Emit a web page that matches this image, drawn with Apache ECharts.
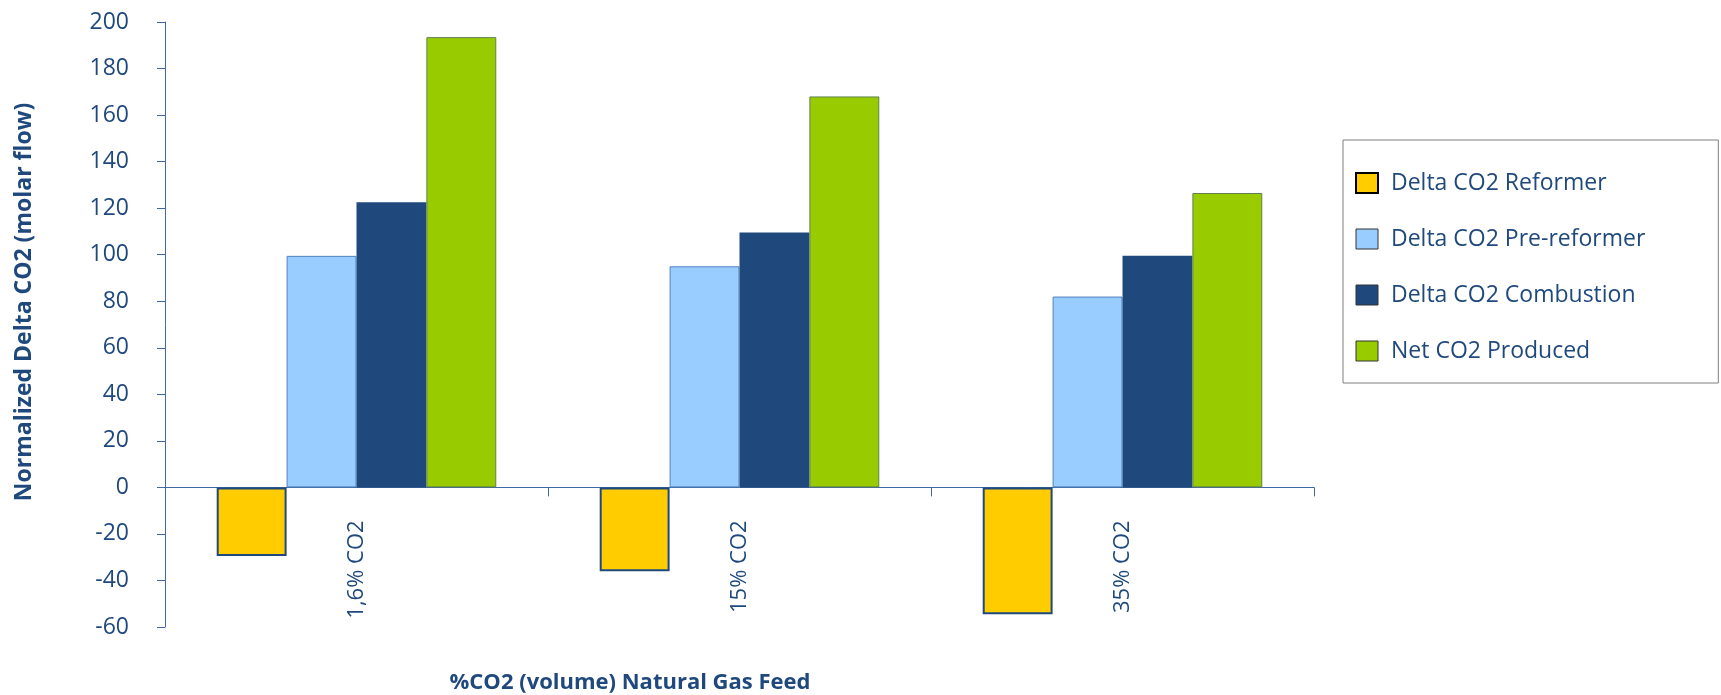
<!DOCTYPE html>
<html>
<head>
<meta charset="utf-8">
<script src="https://cdn.jsdelivr.net/npm/echarts@6/dist/echarts.min.js"></script>
<style>
  html, body { margin: 0; padding: 0; background: #ffffff; }
  #chart { width: 1721px; height: 695px; }
</style>
</head>
<body>
<div id="chart"></div>
<script>
// Feed gas CO2 content (x categories)
const categories = ['1,6% CO2', '15% CO2', '35% CO2'];

// Normalized delta CO2 (molar flow) per unit
const reformer    = [-29.5, -36, -54.5];
const preReformer = [99.5, 95, 82];
const combustion  = [122.5, 109.5, 99.5];
const netProduced = [193.5, 168, 126.5];

const seriesNames = [
  'Delta CO2 Reformer',
  'Delta CO2 Pre-reformer',
  'Delta CO2 Combustion',
  'Net CO2 Produced'
];

// Value axis range
const yMin = -60, yMax = 200, yStep = 20;

const yTitle = 'Normalized Delta CO2 (molar flow)';
const xTitle = '%CO2 (volume) Natural Gas Feed';

const textColor = '#1F497D';
const axisColor = '#4168A0';
const fontFamily = '"Open Sans", "Liberation Sans", sans-serif';
// gap between the zero line and the start of the category labels
const labelGap = 33;

const chart = echarts.init(document.getElementById('chart'), null, { renderer: 'canvas' });

const styles = [
  { color: '#FFCC00', borderColor: '#1F497D', borderWidth: 2 },
  { color: '#99CCFF', borderColor: '#4F81BD', borderWidth: 1 },
  { color: '#1F497D', borderColor: '#1F497D', borderWidth: 0 },
  { color: '#99CC00', borderColor: '#5F7F4F', borderWidth: 1 }
];
const values = [reformer, preReformer, combustion, netProduced];

chart.setOption({
  backgroundColor: '#ffffff',
  animation: false,
  grid: {
    left: 165, right: 407, top: 22, bottom: 68,
    containLabel: false, outerBoundsMode: 'none'
  },
  legend: {
    orient: 'vertical',
    left: 1343,
    top: 140,
    padding: [31, 73, 20, 12],
    itemGap: 32,
    itemWidth: 22,
    itemHeight: 20,
    icon: 'rect',
    borderColor: '#7F7F7F',
    borderWidth: 1,
    selectedMode: false,
    textStyle: {
      color: textColor, fontSize: 23, fontFamily: fontFamily,
      lineHeight: 24, padding: [0, 0, 0, 8]
    },
    data: seriesNames.map((n, i) => ({
      name: n,
      itemStyle: i === 0
        ? { borderColor: '#000000', borderWidth: 2 }
        : { borderColor: '#333333', borderWidth: 1 }
    }))
  },
  xAxis: {
    type: 'category',
    data: categories,
    axisLine: { onZero: true, lineStyle: { color: axisColor, width: 1 } },
    axisTick: { show: true, length: 9, alignWithLabel: false, lineStyle: { color: axisColor } },
    axisLabel: {
      rotate: 90, margin: labelGap, color: textColor,
      fontSize: 22, fontFamily: fontFamily
    },
    splitLine: { show: false }
  },
  yAxis: {
    type: 'value',
    min: yMin, max: yMax, interval: yStep,
    axisLine: { show: true, lineStyle: { color: axisColor, width: 1 } },
    axisTick: { show: true, length: 8, lineStyle: { color: axisColor } },
    axisLabel: { margin: 36, color: textColor, fontSize: 23, fontFamily: fontFamily },
    splitLine: { show: false }
  },
  graphic: [
    {
      type: 'text', x: 24, y: 302, rotation: Math.PI / 2,
      style: {
        text: yTitle, fill: textColor, fontSize: 23, fontWeight: 'bold',
        fontFamily: fontFamily, align: 'center', verticalAlign: 'middle'
      }
    },
    {
      type: 'text', x: 630, y: 683,
      style: {
        text: xTitle, fill: textColor, fontSize: 22, fontWeight: 'bold',
        fontFamily: fontFamily, align: 'center', verticalAlign: 'middle'
      }
    }
  ],
  series: seriesNames.map((n, i) => ({
    name: n,
    type: 'bar',
    data: values[i],
    barGap: '0%',
    barCategoryGap: '27%',
    itemStyle: styles[i]
  }))
});

// Category labels hang from the zero line rather than from the grid bottom:
// pull them up by the distance between the two on the value scale.
const zeroY = chart.convertToPixel({ yAxisIndex: 0 }, 0);
const bottomY = chart.convertToPixel({ yAxisIndex: 0 }, yMin);
chart.setOption({
  xAxis: { axisLabel: { margin: labelGap - (bottomY - zeroY) } }
});
</script>
</body>
</html>
